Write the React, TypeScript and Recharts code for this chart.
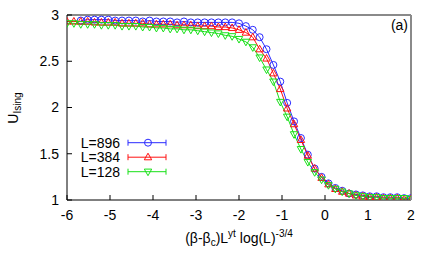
import { LineChart, Line, XAxis, YAxis } from 'recharts'

// scaled variable (β-βc)L^yt log(L)^-3/4, shared by all three sizes
const X = [
  -6, -5.84, -5.68, -5.52, -5.36, -5.2, -5.04, -4.88, -4.72, -4.56,
  -4.4, -4.24, -4.08, -3.92, -3.76, -3.6, -3.44, -3.28, -3.12, -2.96,
  -2.8, -2.64, -2.48, -2.32, -2.16, -2.0, -1.84, -1.68, -1.52, -1.36,
  -1.2, -1.04, -0.88, -0.72, -0.56, -0.4, -0.24, -0.08, 0.08, 0.24,
  0.4, 0.56, 0.72, 0.88, 1.04, 1.2, 1.36, 1.52, 1.68, 1.84, 2.0,
]

const U896 = [
  null, null, 2.94, 2.95, 2.95, 2.95, 2.95, 2.94, 2.94, 2.94,
  2.94, 2.93, 2.94, 2.93, 2.93, 2.93, 2.92, 2.93, 2.92, 2.92,
  2.92, 2.92, 2.92, 2.92, 2.92, 2.91, 2.88, 2.84, 2.76, 2.63,
  2.46, 2.28, 2.05, 1.85, 1.67, 1.49, 1.34, 1.25, 1.18, 1.13,
  1.10, 1.07, 1.06, 1.05, 1.04, 1.04, 1.03, 1.03, 1.03, 1.02, 1.02,
]

const U384 = [
  2.93, 2.93, 2.93, 2.93, 2.92, 2.92, 2.92, 2.92, 2.91, 2.91,
  2.91, 2.91, 2.90, 2.90, 2.90, 2.90, 2.89, 2.89, 2.89, 2.88,
  2.88, 2.88, 2.87, 2.87, 2.86, 2.84, 2.81, 2.76, 2.63, 2.53,
  2.37, 2.20, 1.99, 1.82, 1.65, 1.48, 1.34, 1.24, 1.17, 1.12,
  1.09, 1.07, 1.05, 1.04, 1.03, 1.03, 1.02, 1.02, 1.02, 1.01, 1.01,
]

const U128 = [
  2.91, 2.91, 2.90, 2.90, 2.90, 2.89, 2.89, 2.89, 2.88, 2.88,
  2.88, 2.87, 2.87, 2.86, 2.86, 2.85, 2.85, 2.84, 2.84, 2.83,
  2.82, 2.81, 2.80, 2.78, 2.77, 2.74, 2.71, 2.65, 2.54, 2.41,
  2.28, 2.06, 1.90, 1.71, 1.55, 1.41, 1.30, 1.22, 1.16, 1.12,
  1.09, 1.07, 1.05, 1.04, 1.03, 1.03, 1.02, 1.02, 1.02, 1.02, 1.01,
]

const X_TICKS = [-6, -5, -4, -3, -2, -1, 0, 1, 2]
const Y_TICKS = [1, 1.5, 2, 2.5, 3]

const SERIES = [
  { key: 'u896', label: 'L=896', kleur: '#2a2aff', vorm: 'cirkel' },
  { key: 'u384', label: 'L=384', kleur: '#ff1010', vorm: 'op' },
  { key: 'u128', label: 'L=128', kleur: '#18e018', vorm: 'neer' },
] as const

const FONT = '"Liberation Sans", Arial, sans-serif'

const data = X.map((x, i) => ({ x, u896: U896[i], u384: U384[i], u128: U128[i] }))

function Marker({ cx, cy, vorm, kleur }: { cx: number; cy: number; vorm: string; kleur: string }) {
  if (cx == null || cy == null || isNaN(cy)) return null
  if (vorm === 'cirkel') {
    return <circle cx={cx} cy={cy} r={3.5} fill="none" stroke={kleur} strokeWidth={1} />
  }
  const d = vorm === 'op' ? 1 : -1
  const pts = `${cx},${cy - 4 * d} ${cx - 3.7},${cy + 2.6 * d} ${cx + 3.7},${cy + 2.6 * d}`
  return <polygon points={pts} fill="none" stroke={kleur} strokeWidth={1} />
}

export default function App() {
  const tickText = { fontSize: 14, fill: '#000', fontFamily: FONT }
  return (
    <div style={{ position: 'absolute', left: 0, top: 0, width: 436, height: 262, background: '#fff' }}>
      <LineChart width={436} height={262} data={data} margin={{ top: 10, right: 15, bottom: 32, left: 7 }}>
        <XAxis
          xAxisId="b" dataKey="x" type="number" domain={[-6, 2]} ticks={X_TICKS}
          height={30} tickSize={-5} tickMargin={15} tick={tickText}
          stroke="#000" axisLine={{ stroke: '#000', strokeWidth: 1 }} tickLine={{ stroke: '#000' }}
          allowDataOverflow
        />
        <XAxis
          xAxisId="t" orientation="top" type="number" domain={[-6, 2]} ticks={X_TICKS}
          height={5} tickSize={-5} tick={false}
          axisLine={{ stroke: '#8a8a8a', strokeWidth: 2 }} tickLine={{ stroke: '#333' }}
          allowDataOverflow
        />
        <YAxis
          yAxisId="l" type="number" domain={[1, 3]} ticks={Y_TICKS}
          width={60} tickSize={-5} tickMargin={13} tick={tickText}
          axisLine={{ stroke: '#000', strokeWidth: 1 }} tickLine={{ stroke: '#000' }}
          allowDataOverflow
        />
        <YAxis
          yAxisId="r" orientation="right" type="number" domain={[1, 3]} ticks={Y_TICKS}
          width={10} tickSize={-5} tick={false}
          axisLine={{ stroke: '#8a8a8a', strokeWidth: 2 }} tickLine={{ stroke: '#333' }}
          allowDataOverflow
        />
        {SERIES.map(s => (
          <Line
            key={s.key} xAxisId="b" yAxisId="l" dataKey={s.key}
            stroke={s.kleur} strokeWidth={1} isAnimationActive={false}
            dot={(p: any) => <Marker key={`${s.key}-${p.index}`} cx={p.cx} cy={p.cy} vorm={s.vorm} kleur={s.kleur} />}
            activeDot={false}
          />
        ))}
      </LineChart>

      {/* Labels, legenda en paneelletter bovenop de grafiek */}
      <svg width={436} height={262} style={{ position: 'absolute', left: 0, top: 0, pointerEvents: 'none' }}
        fontFamily={FONT}>
        <text x={408} y={30} fontSize={14} textAnchor="end" fill="#000">(a)</text>

        <text transform="translate(18,108) rotate(-90)" fontSize={14} textAnchor="middle" fill="#000">
          U<tspan fontSize={10} dy={3}>Ising</tspan>
        </text>

        <text x={239} y={243} fontSize={14} textAnchor="middle" fill="#000">
          (β-β<tspan fontSize={10} dy={3}>c</tspan>
          <tspan dy={-3}>)L</tspan>
          <tspan fontSize={10} dy={-6}>yt</tspan>
          <tspan dy={6}> log(L)</tspan>
          <tspan fontSize={10} dy={-6}>-3/4</tspan>
        </text>

        {SERIES.map((s, i) => {
          const y = 142.7 + i * 14.5
          return (
            <g key={s.key}>
              <text x={120} y={y + 5} fontSize={14} textAnchor="end" fill="#000">{s.label}</text>
              <line x1={128} x2={166} y1={y} y2={y} stroke={s.kleur} strokeWidth={1} />
              <line x1={128} x2={128} y1={y - 3} y2={y + 3} stroke={s.kleur} strokeWidth={1} />
              <line x1={166} x2={166} y1={y - 3} y2={y + 3} stroke={s.kleur} strokeWidth={1} />
              <Marker cx={148} cy={y} vorm={s.vorm} kleur={s.kleur} />
            </g>
          )
        })}
      </svg>
    </div>
  )
}
